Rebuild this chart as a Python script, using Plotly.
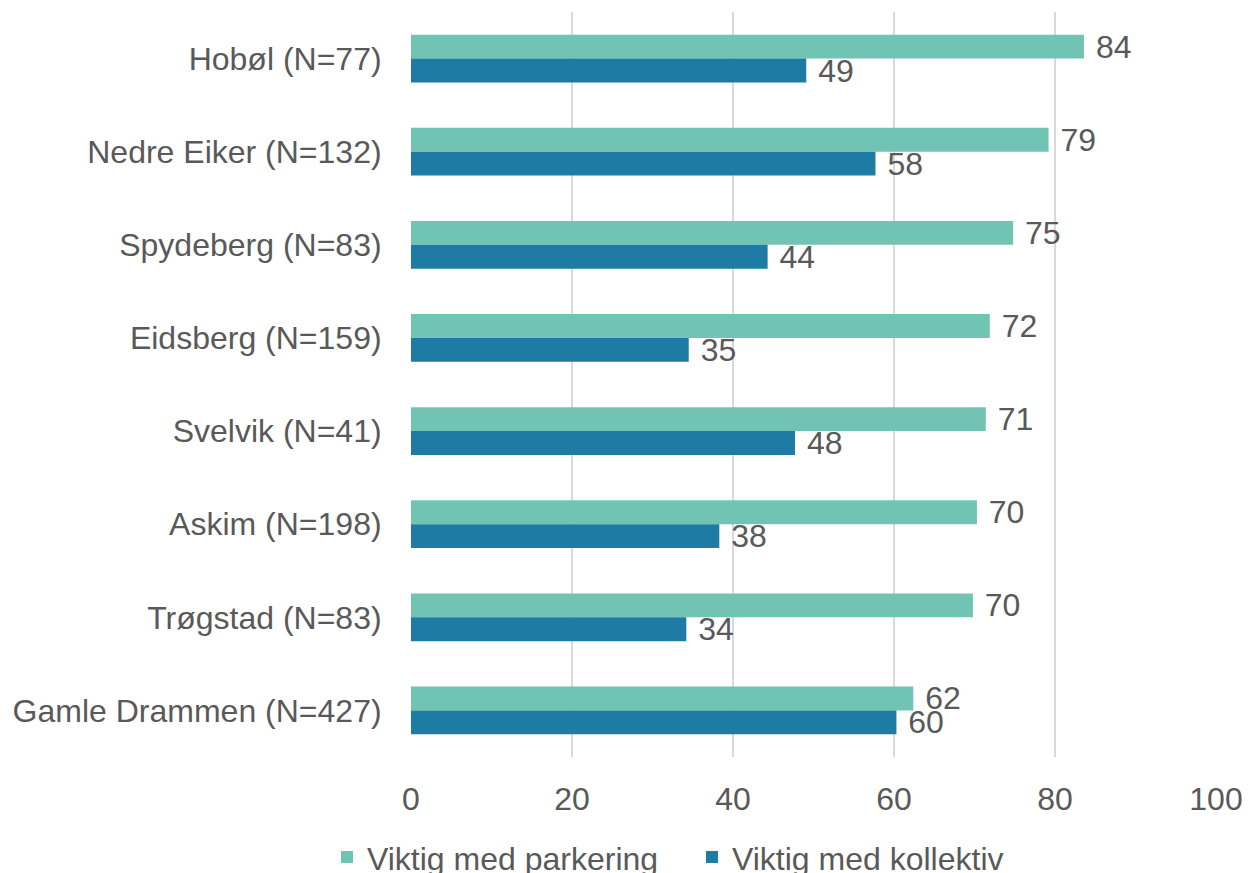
import plotly.graph_objects as go

categories = ["Hobøl (N=77)", "Nedre Eiker (N=132)", "Spydeberg (N=83)", "Eidsberg (N=159)",
              "Svelvik (N=41)", "Askim (N=198)", "Trøgstad (N=83)", "Gamle Drammen (N=427)"]
parkering = [83.6, 79.2, 74.8, 71.9, 71.4, 70.3, 69.8, 62.4]
kollektiv = [49.1, 57.7, 44.3, 34.5, 47.7, 38.3, 34.2, 60.3]
series_names = ["Viktig med parkering", "Viktig med kollektiv"]
x_ticks = [0, 20, 40, 60, 80, 100]

FONT = "Arial, Liberation Sans, sans-serif"
GREY = "#595959"
FS = 32

fig = go.Figure()
for name, vals, color in [(series_names[0], parkering, "#71C4B3"),
                          (series_names[1], kollektiv, "#1E7BA3")]:
    fig.add_trace(go.Bar(
        y=categories, x=vals, name=name, orientation="h",
        marker=dict(color=color, line=dict(width=0)),
        texttemplate="\u00a0%{x:.0f}", textposition="outside",
        textfont=dict(family=FONT, size=FS, color=GREY),
        constraintext="none", cliponaxis=False,
        hoverinfo="skip",
    ))

fig.update_layout(
    width=1248, height=873,
    barmode="group", bargap=0.486, bargroupgap=0,
    plot_bgcolor="white", paper_bgcolor="white",
    font=dict(family=FONT, size=FS, color=GREY),
    margin=dict(l=411, r=32, t=12, b=116, autoexpand=False),
    legend=dict(orientation="h", xref="container", yref="container",
                x=0.262, y=0.018, xanchor="left", yanchor="middle",
                font=dict(size=FS, color=GREY), itemwidth=30, entrywidth=320,
                traceorder="normal"),
    xaxis=dict(range=[0, 100], tickvals=x_ticks, showgrid=True, gridcolor="#D9D9D9",
               gridwidth=1.5, zeroline=False, showline=False,
               ticks="outside", ticklen=14, tickcolor="rgba(0,0,0,0)",
               tickfont=dict(size=FS, color=GREY)),
    yaxis=dict(autorange="reversed", showgrid=False, zeroline=False, showline=False,
               ticks="outside", ticklen=22, tickcolor="rgba(0,0,0,0)",
               tickfont=dict(size=FS, color=GREY)),
)

fig.write_html("out.html", config={"displayModeBar": False},
               post_script="document.body.style.margin='0';document.body.style.overflow='hidden';")
